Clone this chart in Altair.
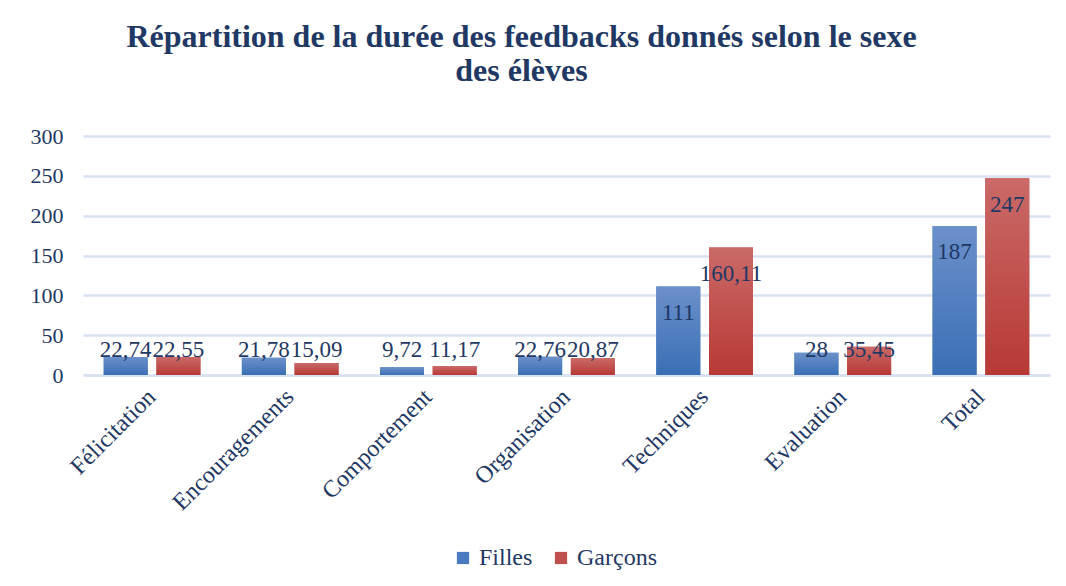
import altair as alt
import pandas as pd

categories = ["Félicitation", "Encouragements", "Comportement", "Organisation",
              "Techniques", "Evaluation", "Total"]
series = ["Filles", "Garçons"]
filles = [22.74, 21.78, 9.72, 22.76, 111, 28, 187]
garcons = [22.55, 15.09, 11.17, 20.87, 160.11, 35.45, 247]
y_ticks = [0, 50, 100, 150, 200, 250, 300]

rows = []
for c, f, g in zip(categories, filles, garcons):
    rows.append({"cat": c, "sexe": "Filles", "v": f})
    rows.append({"cat": c, "sexe": "Garçons", "v": g})
df = pd.DataFrame(rows)

TXT = "#1F3864"
FONT = "Liberation Serif"
GRID = "#D9E2F3"

xenc = alt.X("cat:N", sort=categories, title=None,
             scale=alt.Scale(paddingInner=0.3, paddingOuter=0.15),
             axis=alt.Axis(labelAngle=-45, labelAlign="right", labelBaseline="middle",
                           labelPadding=18, ticks=False, domain=True,
                           domainColor=GRID, domainWidth=2.5, labelOverlap=False,
                           labelFont=FONT, labelFontSize=24, labelColor=TXT))
xoff = alt.XOffset("sexe:N", scale=alt.Scale(domain=series, paddingInner=0.165, paddingOuter=0))
yscale = alt.Scale(domain=[0, 300], nice=False)
yaxis = alt.Axis(values=y_ticks, ticks=False, domain=False, labelOverlap=False,
                 gridColor=GRID, gridWidth=2.5,
                 labelFont=FONT, labelFontSize=22, labelColor=TXT,
                 labelPadding=20)
yenc = alt.Y("v:Q", title=None, scale=yscale, axis=yaxis)

base = alt.Chart(df)

solid = base.mark_bar().encode(
    x=xenc, xOffset=xoff, y=yenc,
    color=alt.Color("sexe:N", scale=alt.Scale(domain=series, range=["#4A7BC0", "#C0504D"]),
                    legend=alt.Legend(title=None, orient="none", direction="horizontal",
                                      legendX=368, legendY=410,
                                      symbolType="square", symbolSize=150,
                                      symbolStrokeWidth=0, columnPadding=16,
                                      labelFont="Liberation Serif, serif",
                                      labelFontSize=24, labelColor=TXT)),
)

def grad(top, bottom):
    return alt.Gradient(gradient="linear",
                        stops=[alt.GradientStop(color=top, offset=0),
                               alt.GradientStop(color=bottom, offset=1)],
                        x1=0, x2=0, y1=0, y2=1)

blue = base.transform_filter(alt.datum.sexe == "Filles").mark_bar(
    color=grad("#6C90CA", "#3A6FB5")).encode(x=xenc, xOffset=xoff, y=yenc)
red = base.transform_filter(alt.datum.sexe == "Garçons").mark_bar(
    color=grad("#CA6A68", "#B73935")).encode(x=xenc, xOffset=xoff, y=yenc)

labels = base.transform_calculate(
    lab="replace(format(datum.v, ''), '.', ',')",
    pos="max(datum.v - 33, 31)",
).mark_text(font=FONT, fontSize=23, color=TXT, baseline="middle").encode(
    x=xenc, xOffset=xoff, y=alt.Y("pos:Q", title=None, scale=yscale, axis=yaxis),
    text="lab:N",
)

chart = alt.layer(solid, blue, red, labels).properties(
    width=967, height=239,
    title=alt.TitleParams(
        ["Répartition de la durée des feedbacks donnés selon le sexe", "des élèves"],
        font=FONT, fontSize=32, fontWeight="bold", color=TXT,
        anchor="middle", lineHeight=34, offset=37, dx=-45),
    autosize=alt.AutoSizeParams(type="none"),
    padding={"left": 75, "top": 128, "right": 8, "bottom": 195},
).configure(
    background="white", font=FONT,
    style={"guide-label": {"font": FONT, "fill": TXT}},
).configure_view(
    strokeWidth=0, stroke="transparent"
)

chart.save("out.html", embed_options={"renderer": "svg", "actions": False})
